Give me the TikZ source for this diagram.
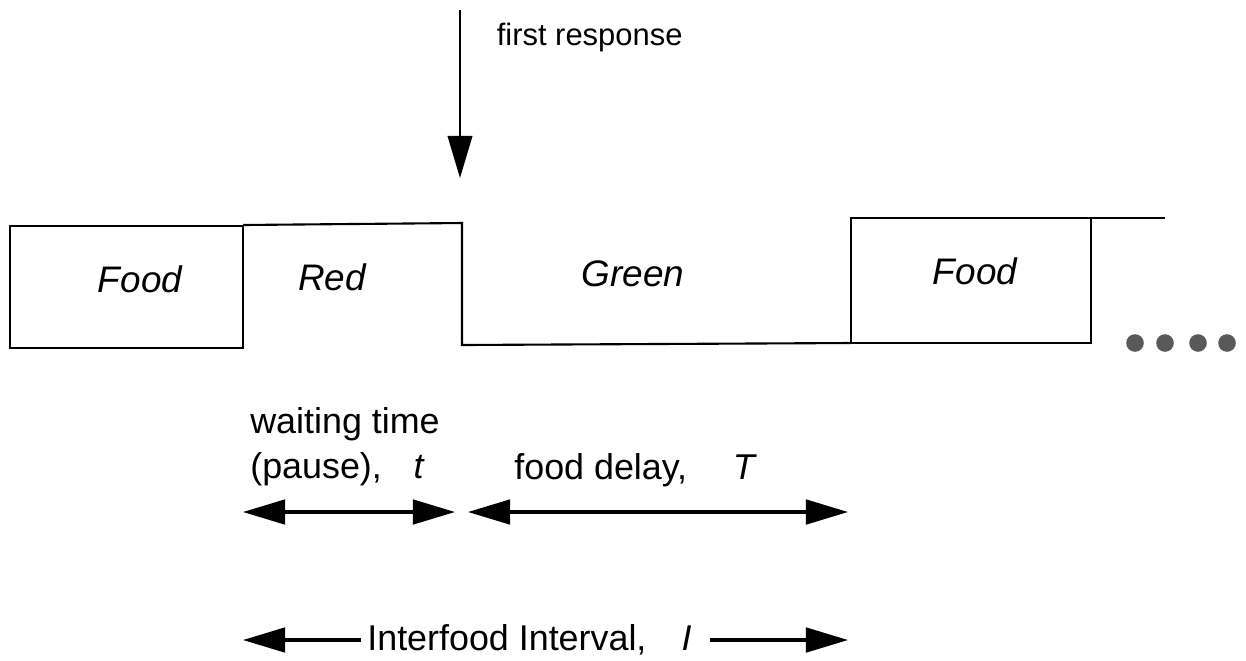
\documentclass[tikz,border=0pt]{standalone}
\usepackage{fontspec}
\setmainfont{Liberation Sans}
\usetikzlibrary{arrows.meta}

\tikzset{
    phase/.style={font=\fontsize{10.5}{12}\selectfont\itshape},
    note/.style={font=\fontsize{10.2}{12.8}\selectfont, inner sep=1.5pt},
    span/.style={<->, line width=0.9pt},
}

\begin{document}
\begin{tikzpicture}[x=0.01cm, y=-0.01cm, >={Triangle[length=12pt, width=7pt]}, line width=0.6pt]
    \useasboundingbox (0, 0) rectangle (1246, 660);

    % Schedule outline
    \draw (10, 226) rectangle (243, 348);
    \draw (243, 225) -- (462, 223) -- (462, 345) -- (851, 343);
    \draw (851, 343) rectangle (1091, 218);
    \draw (1091, 218) -- (1165, 218);

    % Phase labels
    \node[phase] (food1) at (140, 279) {Food};
    \node[phase] (red) at (332, 277) {Red};
    \node[phase] (green) at (633, 274) {Green};
    \node[phase] (food2) at (975, 271) {Food};

    % More cycles
    \foreach \x in {1135, 1165, 1198, 1227}
        \fill[black!65] (\x, 343) circle[radius=2.5pt];

    % First response
    \coordinate (resptop) at (460, 10);
    \coordinate (resptip) at (460, 178);
    \draw[->] (resptop) -- (resptip);
    \node[font=\fontsize{8.8}{10}\selectfont, anchor=west] (resp) at (484, 37) {first response};

    % Waiting time and food delay
    \node[note, anchor=west, align=left] (wait) at (244, 447) {waiting time\\(pause),\hspace{9pt}\textit{t}};
    \node[note, anchor=west] (delay) at (508, 470) {food delay,\hspace{13pt}\textit{T}};
    \coordinate (w0) at (243, 512);
    \coordinate (w1) at (455, 512);
    \coordinate (d0) at (468, 512);
    \coordinate (d1) at (848, 512);
    \draw[span] (w0) -- (w1);
    \draw[span] (d0) -- (d1);

    % Interfood interval
    \node[note, anchor=west] (ifi) at (361, 640) {Interfood Interval,\hspace{10pt}\textit{I}};
    \coordinate (i0) at (243, 640);
    \coordinate (i1) at (848, 640);
    \draw[->, line width=0.9pt] (ifi.west) -- (i0);
    \draw[->, line width=0.9pt] (ifi.east) ++(12, 0) -- (i1);
\end{tikzpicture}
\end{document}
